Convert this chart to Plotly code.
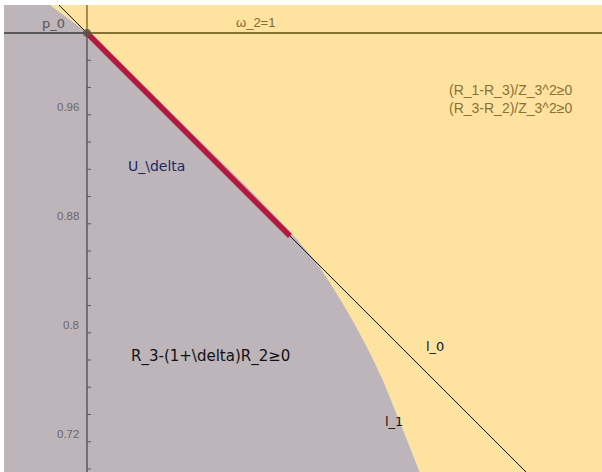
import plotly.graph_objects as go

# ---------------- data ----------------
# point p_0 (on omega_2 = 1)
p0_x = [0.0]
p0_y = [1.0]

# line l_0 : y = 1 - x (through p_0)
l0_x = [-0.04, 0.36]
l0_y = [1.0 - v for v in l0_x]

# highlighted segment on l_0
seg_x = [0.0, 0.149]
seg_y = [1.0 - v for v in seg_x]

# boundary curve l_1 of region R_3-(1+\delta)R_2>=0
l1_x = [-0.0340, -0.0272, 0.0000, 0.0470, 0.0822, 0.1189, 0.1505, 0.1680,
        0.1830, 0.1955, 0.2065, 0.2170, 0.2275, 0.2378, 0.2440, 0.2480]
l1_y = [1.0260, 1.0206, 1.0000, 0.9560, 0.9215, 0.8855, 0.8525, 0.8319,
        0.8092, 0.7879, 0.7673, 0.7453, 0.7196, 0.6939, 0.6778, 0.6680]

# y axis
minor_ticks = [round(1.0 - 0.02 * k, 2) for k in range(1, 17)]
tick_labels = [0.96, 0.88, 0.8, 0.72]
tick_text = ["0.96", "0.88", "0.8", "0.72"]

x_range = [-0.0609, 0.3780]
y_range = [0.6778, 1.0206]

YELLOW = "#FDE2A0"
GREY = "#BDB5B9"
OLIVE = "#86702F"
AXIS = "#5A5858"

fig = go.Figure()

# grey region
gx = l1_x + [x_range[0] - 0.02, x_range[0] - 0.02, l1_x[0]]
gy = l1_y + [y_range[0] - 0.02, y_range[1] + 0.02, y_range[1] + 0.02]
fig.add_trace(go.Scatter(x=gx, y=gy, mode="lines", fill="toself",
                         fillcolor=GREY, line=dict(color=GREY, width=0, shape="spline", smoothing=0.6),
                         hoverinfo="skip", showlegend=False))

# omega_2 = 1 line
fig.add_trace(go.Scatter(x=[x_range[0] - 0.01, p0_x[0]], y=[p0_y[0], p0_y[0]], mode="lines",
                         line=dict(color=AXIS, width=2), showlegend=False, hoverinfo="skip"))
fig.add_trace(go.Scatter(x=[p0_x[0], x_range[1] + 0.01], y=[p0_y[0], p0_y[0]], mode="lines",
                         line=dict(color=OLIVE, width=2), showlegend=False, hoverinfo="skip"))
# vertical line above p_0
fig.add_trace(go.Scatter(x=[0, 0], y=[p0_y[0], y_range[1] + 0.01], mode="lines",
                         line=dict(color=OLIVE, width=1.5), showlegend=False, hoverinfo="skip"))
# y axis below p_0
fig.add_trace(go.Scatter(x=[0, 0], y=[p0_y[0], y_range[0] - 0.01], mode="lines",
                         line=dict(color=AXIS, width=1.5), showlegend=False, hoverinfo="skip"))
# minor ticks
tx, ty = [], []
for t in minor_ticks:
    tx += [0, 0.003, None]
    ty += [t, t, None]
fig.add_trace(go.Scatter(x=tx, y=ty, mode="lines", line=dict(color=AXIS, width=1),
                         showlegend=False, hoverinfo="skip"))

# l_0
fig.add_trace(go.Scatter(x=l0_x, y=l0_y, mode="lines", line=dict(color="#111111", width=1),
                         showlegend=False, hoverinfo="skip"))
# highlighted segment
fig.add_trace(go.Scatter(x=seg_x, y=seg_y, mode="lines", line=dict(color="#B5173F", width=5.5),
                         showlegend=False, hoverinfo="skip"))
# p_0 point
fig.add_trace(go.Scatter(x=p0_x, y=p0_y, mode="markers",
                         marker=dict(color="#5E5444", size=8, opacity=0.85),
                         showlegend=False, hoverinfo="skip"))

ann = []
for v, s in zip(tick_labels, tick_text):
    ann.append(dict(x=0, y=v, text=s, showarrow=False, xanchor="right", yanchor="middle",
                    xshift=-6, yshift=-19,
                    font=dict(family="Liberation Sans, Arial", size=11.5, color="#6A6666")))

def label(x, y, text, color, size=13, family="Liberation Sans, Arial", anchor="center"):
    ann.append(dict(x=x, y=y, xref="x", yref="y", text=text, showarrow=False,
                    xanchor=anchor, yanchor="middle",
                    font=dict(family=family, size=size, color=color)))

PX = 1362.5
def px2x(px):
    return (px - 87) / PX
def py2y(py):
    return 1 - (py - 33) / PX

label(px2x(54), py2y(23), "p_0", "#555555", 13, "DejaVu Sans")
label(px2x(256), py2y(22), "ω_2=1", "#7E6A2E", 13)
label(px2x(511), py2y(90), "(R_1-R_3)/Z_3^2≥0", "#8B7036", 14)
label(px2x(511), py2y(108), "(R_3-R_2)/Z_3^2≥0", "#8B7036", 14)
label(px2x(157), py2y(166), "U_\\delta", "#1C2766", 14, "DejaVu Sans")
label(px2x(129), py2y(356), "R_3-(1+\\delta)R_2≥0", "#111111", 15, "DejaVu Sans", "left")
label(px2x(435), py2y(346), "l_0", "#111111", 13, "DejaVu Sans")
label(px2x(394), py2y(421), "l_1", "#111111", 13, "DejaVu Sans")

fig.update_layout(
    width=602, height=472,
    margin=dict(l=0, r=0, t=0, b=0),
    paper_bgcolor="white", plot_bgcolor=YELLOW,
    xaxis=dict(range=x_range, domain=[4 / 602, 1], visible=False, fixedrange=True),
    yaxis=dict(range=y_range, domain=[0, 467 / 472], visible=False, fixedrange=True),
    annotations=ann, showlegend=False,
)

fig.write_html("out.html", config={"displayModeBar": False},
               post_script="document.body.style.margin='0px';document.body.style.overflow='hidden';")
